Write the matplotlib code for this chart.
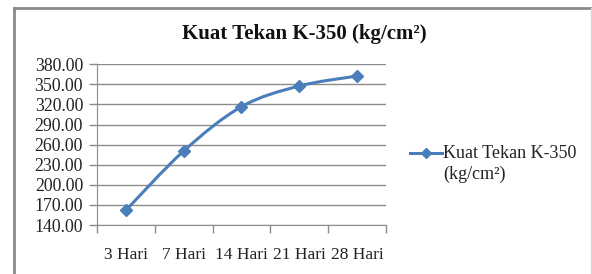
import matplotlib
matplotlib.use("Agg")
import matplotlib.pyplot as plt
from matplotlib.path import Path
from matplotlib.patches import PathPatch
from matplotlib.lines import Line2D
import numpy as np

categories = ["3 Hari", "7 Hari", "14 Hari", "21 Hari", "28 Hari"]
values = [162.0, 250.5, 316.7, 347.6, 362.5]
y_ticks = [140, 170, 200, 230, 260, 290, 320, 350, 380]
series_name_lines = ["Kuat Tekan K-350", "(kg/cm²)"]
title = "Kuat Tekan K-350 (kg/cm²)"

BLUE = "#4A7EBB"
GRID = "#8C8C8C"
FONT = "Liberation Serif"

W, H = 592, 274
fig = plt.figure(figsize=(W / 100, H / 100), dpi=100)
fig.patch.set_facecolor("white")

# chart area border
fig.add_artist(Line2D([14 / W, 14 / W], [0, (H - 8) / H], transform=fig.transFigure,
                      color="#8A8A8A", lw=2.0))
fig.add_artist(Line2D([14 / W, 591 / W], [(H - 8) / H, (H - 8) / H], transform=fig.transFigure,
                      color="#8A8A8A", lw=2.0))
fig.add_artist(Line2D([590.5 / W, 590.5 / W], [0, (H - 8) / H], transform=fig.transFigure,
                      color="#D8D8D8", lw=1.0))

ax = fig.add_axes([97 / W, 49 / H, 289 / W, 160.7 / H])
ax.set_facecolor("white")

x = np.arange(len(categories))
y = np.array(values)

# smoothed line (Catmull-Rom style Bezier through the data points)
pts = np.column_stack([x, y]).astype(float)
ext = np.vstack([pts[0], pts, pts[-1]])
verts = [tuple(pts[0])]
codes = [Path.MOVETO]
for i in range(len(pts) - 1):
    p0, p1, p2, p3 = ext[i], ext[i + 1], ext[i + 2], ext[i + 3]
    c1 = p1 + (p2 - p0) / 6.0
    c2 = p2 - (p3 - p1) / 6.0
    verts += [tuple(c1), tuple(c2), tuple(p2)]
    codes += [Path.CURVE4] * 3
ax.add_patch(PathPatch(Path(verts, codes), facecolor="none", edgecolor=BLUE, lw=2.2,
                       zorder=3, capstyle="round", joinstyle="round"))
ax.plot(x, y, linestyle="none", marker="D", markersize=6.5, color=BLUE, zorder=4)

ax.set_xlim(-0.5, len(categories) - 0.5)
ax.set_ylim(y_ticks[0], y_ticks[-1])
ax.set_yticks(y_ticks)
ax.set_yticklabels([f"{v:.2f}" for v in y_ticks], fontfamily=FONT, fontsize=12.8)
ax.set_xticks(x)
ax.set_xticklabels(categories, fontfamily=FONT, fontsize=12.5)
ax.set_xticks(np.arange(-0.5, len(categories), 1.0), minor=True)
ax.tick_params(axis="x", which="major", length=0, pad=16)
ax.tick_params(axis="x", which="minor", length=6, color=GRID, width=1)
ax.tick_params(axis="y", length=6, color=GRID, width=1, pad=4)
for lab in ax.get_yticklabels() + ax.get_xticklabels():
    lab.set_color("#222222")

ax.grid(axis="y", color=GRID, lw=1)
ax.set_axisbelow(True)
for s in ["top", "right"]:
    ax.spines[s].set_visible(False)
ax.spines["left"].set_color(GRID)
ax.spines["bottom"].set_color(GRID)

fig.text(304.5 / W, (H - 34) / H, title, ha="center", va="center", fontfamily=FONT,
         fontsize=15, fontweight="bold", color="#111111")

# legend (drawn manually so the key sits on the first text line)
leg_y1 = (H - 153) / H
leg_y2 = (H - 174) / H
fig.add_artist(Line2D([410 / W, 442 / W], [leg_y1, leg_y1], transform=fig.transFigure,
                      color=BLUE, lw=2.2))
fig.add_artist(Line2D([426 / W], [leg_y1], transform=fig.transFigure, color=BLUE,
                      marker="D", markersize=5.5, linestyle="none"))
fig.text(443 / W, leg_y1, series_name_lines[0], ha="left", va="center", fontfamily=FONT,
         fontsize=13, color="#222222")
fig.text(443 / W, leg_y2, series_name_lines[1], ha="left", va="center", fontfamily=FONT,
         fontsize=13, color="#222222")

fig.savefig("out.png", dpi=100, facecolor="white")
